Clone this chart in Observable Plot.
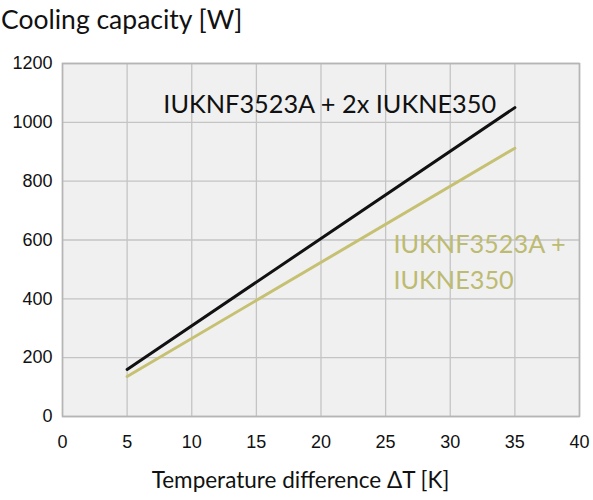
<!DOCTYPE html>
<html>
<head>
<meta charset="utf-8">
<script src="https://cdn.jsdelivr.net/npm/d3@7"></script>
<script src="https://cdn.jsdelivr.net/npm/@observablehq/plot@0.6"></script>
<style>
  html, body { margin: 0; padding: 0; background: #fff; }
  #wrap { width: 593px; }
  .title { height: 40px; line-height: 38px; font-family: Lato, "Open Sans", sans-serif; font-size: 26.5px; color: #111; padding-left: 1px; }
  .caption { height: 40px; line-height: 40px; font-family: Lato, "Open Sans", sans-serif; font-size: 22.5px; color: #111; text-align: center; padding-left: 8px; }
</style>
</head>
<body>
<div id="wrap">
  <div class="title">Cooling capacity [W]</div>
  <div id="chart"></div>
  <div class="caption">Temperature difference ΔT [K]</div>
</div>
<script>
const xTicks = [0, 5, 10, 15, 20, 25, 30, 35, 40];
const yTicks = [0, 200, 400, 600, 800, 1000, 1200];

const seriesNames = ["IUKNF3523A + 2x IUKNE350", "IUKNF3523A +\nIUKNE350"];
const seriesColors = ["#111111", "#c6c172"];
const labelColors = ["#111111", "#bdbb72"];
const deltaT = [5, 35];
const capacityDouble = [160, 1050];
const capacitySingle = [136, 912];

const lineData = [
  ...deltaT.map((t, i) => ({s: 0, t, w: capacityDouble[i]})),
  ...deltaT.map((t, i) => ({s: 1, t, w: capacitySingle[i]}))
];
const labels = [
  {s: 0, t: 7.8, w: 1071, text: seriesNames[0]},
  {s: 1, t: 25.6, w: 534, text: seriesNames[1]}
];

const tickFont = "'Liberation Sans', Arial, sans-serif";

const chart = Plot.plot({
  width: 593,
  height: 420,
  marginTop: 23,
  marginLeft: 62,
  marginRight: 14,
  marginBottom: 44,
  style: {fontFamily: tickFont, fontSize: "18px", color: "#111", background: "transparent"},
  x: {domain: [0, 40]},
  y: {domain: [0, 1200]},
  marks: [
    Plot.frame({fill: "#f0f0f0", stroke: null}),
    Plot.gridX(xTicks, {stroke: "#c4c4c4", strokeOpacity: 1, strokeWidth: 1.3}),
    Plot.gridY(yTicks, {stroke: "#c4c4c4", strokeOpacity: 1, strokeWidth: 1.3}),
    Plot.frame({stroke: "#b5b5b5", strokeWidth: 1.6}),
    Plot.axisX(xTicks, {tickSize: 0, tickPadding: 19, label: null, fontSize: 18, fontFamily: tickFont, tickFormat: d => String(d)}),
    Plot.axisY(yTicks, {tickSize: 0, tickPadding: 10, label: null, fontSize: 18, fontFamily: tickFont, tickFormat: d => String(d)}),
    Plot.line(lineData, {x: "t", y: "w", z: "s", stroke: d => seriesColors[d.s], strokeWidth: 3}),
    Plot.text(labels, {x: "t", y: "w", text: "text", fill: d => labelColors[d.s], textAnchor: "start", fontSize: 25.3, lineHeight: 1.44, fontFamily: "Lato, 'Open Sans', sans-serif"})
  ]
});
document.getElementById("chart").appendChild(chart);
</script>
</body>
</html>
